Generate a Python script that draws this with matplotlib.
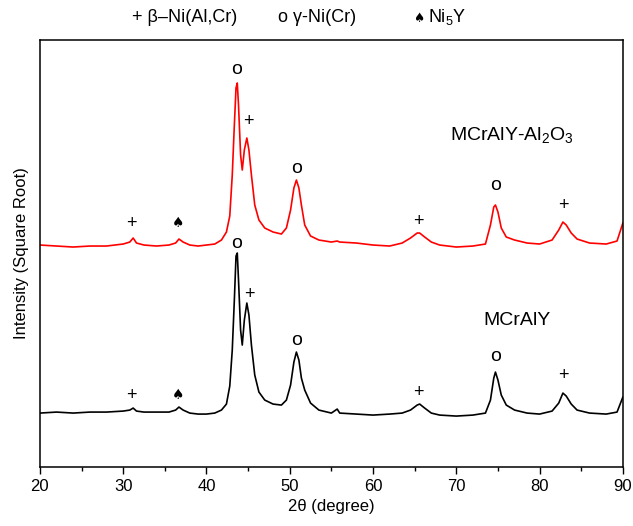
import numpy as np
import matplotlib.pyplot as plt
from matplotlib.ticker import MultipleLocator

plt.rcParams['font.family'] = ['Liberation Sans', 'DejaVu Sans']
plt.rcParams['mathtext.fontset'] = 'custom'
plt.rcParams['mathtext.rm'] = 'Liberation Sans'
plt.rcParams['mathtext.it'] = 'Liberation Sans'

# 2theta positions (degree)
two_theta = [20, 22, 24, 26, 28, 30, 30.8, 31.2, 31.6, 32.5, 34, 35.5, 36.3, 36.7, 37.2, 38, 39,
             40, 41, 41.8, 42.4, 42.8, 43.1, 43.35, 43.55, 43.7, 43.85, 44.1, 44.3, 44.55, 44.85,
             45.1, 45.4, 45.8, 46.3, 47, 48, 49, 49.6, 50.1, 50.5, 50.8, 51.1, 51.4, 51.8, 52.5,
             53.5, 55, 55.7, 56, 58, 60, 62, 63.5, 64.5, 65.3, 65.6, 66.2, 67, 68, 70, 72, 73.5,
             74.1, 74.5, 74.7, 75.0, 75.4, 76, 77, 78.5, 80, 81.5, 82.3, 82.8, 83.2, 83.8, 84.5,
             86, 88, 89.3, 90]

# intensity (square root, arbitrary units, stacked)
mcraly = [53, 54, 53, 54, 54, 55, 56, 58, 55, 54, 54, 54, 56, 59, 56, 53, 52,
          52, 53, 56, 62, 80, 116, 166, 210, 213, 186, 136, 121, 146, 163,
          151, 121, 91, 74, 66, 62, 61, 66, 81, 104, 114, 106, 88, 76, 63,
          56, 53, 57, 53, 52, 51, 52, 53, 56, 61, 62, 58, 53, 51, 50, 51, 53,
          66, 88, 94, 86, 71, 61, 56, 53, 52, 55, 63, 73, 70, 62, 56,
          53, 52, 54, 69]

mcraly_al2o3 = [221, 220, 219, 220, 220, 222, 224, 228, 223, 221, 220, 221, 223, 227, 224, 221, 220,
                221, 222, 226, 234, 250, 291, 341, 378, 383, 361, 311, 296, 316, 328,
                316, 291, 261, 246, 238, 234, 232, 238, 256, 278, 286, 278, 261, 241, 230,
                226, 224, 225, 224, 223, 221, 220, 223, 228, 233, 233, 229, 224, 221, 219, 220, 222,
                241, 259, 261, 254, 238, 229, 226, 223, 222, 226, 236, 244, 241, 233, 227,
                223, 222, 225, 243]

# phase markers: (symbol, 2theta, height)
marks_top = [('+', 31.0, 243), ('\u2660', 36.6, 243), ('o', 43.6, 396), ('+', 45.0, 344),
             ('o', 50.8, 298), ('+', 65.5, 245), ('o', 74.7, 281), ('+', 82.9, 261)]
marks_bottom = [('+', 31.0, 71), ('\u2660', 36.6, 71), ('o', 43.6, 223), ('+', 45.2, 172),
                ('o', 50.8, 126), ('+', 65.5, 74), ('o', 74.7, 110), ('+', 82.9, 91)]

fig = plt.figure(figsize=(6.33, 5.26), dpi=100)
ax = fig.add_axes([0.063, 0.112, 0.921, 0.812])

ax.plot(two_theta, mcraly, color='black', lw=1.2)
ax.plot(two_theta, mcraly_al2o3, color='red', lw=1.2)

for sym, x, y in marks_top + marks_bottom:
    if sym == '\u2660':
        ax.text(x, y, sym, ha='center', va='center', fontsize=10, family='DejaVu Sans')
    elif sym == 'o':
        ax.text(x, y, sym, ha='center', va='center', fontsize=14)
    else:
        ax.text(x, y, sym, ha='center', va='center', fontsize=13)

ax.text(76.7, 331, r'MCrAlY-Al$_2$O$_3$', ha='center', va='center', fontsize=14)
ax.text(77.3, 146, 'MCrAlY', ha='center', va='center', fontsize=14)

# legend line above the frame
fig.text(0.2085, 0.967, '+ \u03b2\u2013Ni(Al,Cr)', ha='left', va='center', fontsize=13)
fig.text(0.439, 0.967, 'o \u03b3-Ni(Cr)', ha='left', va='center', fontsize=13)
fig.text(0.652, 0.965, '\u2660', ha='left', va='center', fontsize=9, family='DejaVu Sans')
fig.text(0.676, 0.967, r'Ni$_5$Y', ha='left', va='center', fontsize=13)

ax.set_xlim(20, 90)
ax.set_ylim(-1, 426)
ax.xaxis.set_major_locator(MultipleLocator(10))
ax.xaxis.set_minor_locator(MultipleLocator(5))
ax.tick_params(axis='x', which='major', direction='out', length=5, width=1, labelsize=12)
ax.tick_params(axis='x', which='minor', direction='out', length=3, width=1)
ax.set_yticks([])
for s in ax.spines.values():
    s.set_linewidth(1.1)

ax.set_xlabel('2\u03b8 (degree)', fontsize=12)
ax.set_ylabel('Intensity (Square Root)', fontsize=12, labelpad=8)

fig.savefig('out.png', dpi=100)
